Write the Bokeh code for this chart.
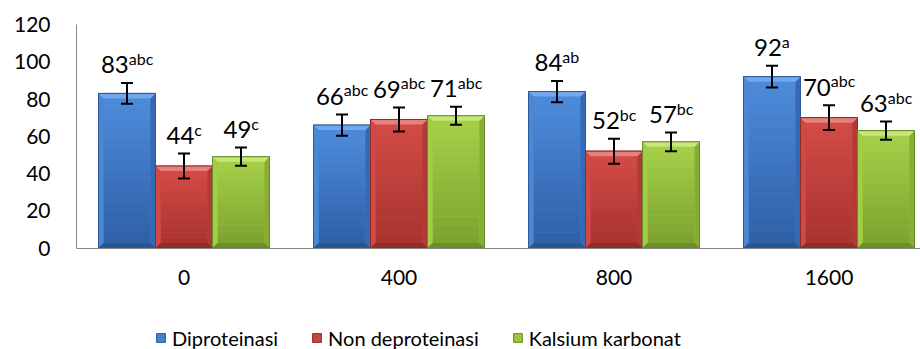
import numpy as np
from bokeh.plotting import figure
from bokeh.models import (ColumnDataSource, FixedTicker, Legend, LegendItem,
                          Whisker, TeeHead, Range1d)
from bokeh.core.properties import value
from bokeh.embed import file_html
from bokeh.resources import INLINE

# ---------------- data ----------------
categories = ["0", "400", "800", "1600"]
series_names = ["Diproteinasi", "Non deproteinasi", "Kalsium karbonat"]
diproteinasi = [83, 66, 84, 92]
non_deproteinasi = [44, 69, 52, 70]
kalsium_karbonat = [49, 71, 57, 63]
err_diproteinasi = [5.6, 5.7, 5.7, 5.8]
err_non_deproteinasi = [6.7, 6.5, 6.7, 6.7]
err_kalsium_karbonat = [4.9, 4.8, 5.0, 4.9]
letters_diproteinasi = ["abc", "abc", "ab", "a"]
letters_non_deproteinasi = ["c", "abc", "bc", "abc"]
letters_kalsium_karbonat = ["c", "abc", "bc", "abc"]
y_ticks = [0, 20, 40, 60, 80, 100, 120]

series_values = [diproteinasi, non_deproteinasi, kalsium_karbonat]
series_errors = [err_diproteinasi, err_non_deproteinasi, err_kalsium_karbonat]
series_letters = [letters_diproteinasi, letters_non_deproteinasi, letters_kalsium_karbonat]

# ---------------- styles ----------------
palettes = [
    dict(mid="#4382d2", top="#4d8cdb", bot="#2f60a6", light="#74a8ec", lside="#4a88d6", rside="#3669b3", bevel_bot="#2a5594", line="#2c5a98"),
    dict(mid="#c94541", top="#d34b46", bot="#a8332f", light="#e8817c", lside="#cf4a45", rside="#b03a36", bevel_bot="#922c29", line="#8e2b28"),
    dict(mid="#9bc740", top="#a5d048", bot="#7da22f", light="#c6e87a", lside="#a2cd46", rside="#86ad35", bevel_bot="#6d8e28", line="#6a8a27"),
]

FONT = "Lato"
W, H = 920, 349
LEFT, TOP = 76, 24
FRAME_W = W - LEFT
FRAME_H = H - TOP
CAT_PX = 215.0
X_END = FRAME_W / CAT_PX
PX_X = CAT_PX            # px per x unit
PX_Y = 223.5 / 120.0     # px per y unit
Y_MIN = -(FRAME_H / PX_Y - 120.0)   # frame extends below 0 to hold the legend
BW = 57.0 / CAT_PX       # bar width in x units
DX = 5.0 / PX_X
DY = 5.0 / PX_Y

p = figure(width=W, height=H, x_range=Range1d(0, X_END), y_range=Range1d(Y_MIN, 120),
           output_backend="svg", toolbar_location=None,
           min_border_left=LEFT, min_border_right=0, min_border_top=TOP, min_border_bottom=0)
p.xgrid.visible = False
p.ygrid.visible = False
p.outline_line_color = None
p.background_fill_color = "white"
p.border_fill_color = "white"

legend_renderers = []
NSLICE = 14

def mix(c1, c2, t):
    a = [int(c1[i:i + 2], 16) for i in (1, 3, 5)]
    b = [int(c2[i:i + 2], 16) for i in (1, 3, 5)]
    return "#%02x%02x%02x" % tuple(int(round(a[k] + (b[k] - a[k]) * t)) for k in range(3))

for s, (vals, errs, lets, pal) in enumerate(zip(series_values, series_errors, series_letters, palettes)):
    xs = np.arange(len(categories)) + 0.5 + (s - 1) * BW
    vals = np.array(vals, dtype=float)
    errs = np.array(errs, dtype=float)
    left = xs - BW / 2
    right = xs + BW / 2

    base = p.vbar(x=xs, top=vals, width=BW, fill_color=pal["mid"], line_color=pal["line"], line_width=1)
    legend_renderers.append(base)

    # gradient face
    ql, qr, qb, qt, qc = [], [], [], [], []
    for i in range(len(xs)):
        y0, y1 = DY, vals[i] - DY
        edges = np.linspace(y0, y1, NSLICE + 1)
        for k in range(NSLICE):
            ql.append(left[i] + DX); qr.append(right[i] - DX)
            qb.append(edges[k]); qt.append(edges[k + 1] + 0.05)
            qc.append(mix(pal["bot"], pal["top"], (k + 0.5) / NSLICE))
    p.quad(left=ql, right=qr, bottom=qb, top=qt, fill_color=qc, line_color=None)

    # bevels
    top_x, top_y, l_x, l_y, r_x, r_y, b_x, b_y = [], [], [], [], [], [], [], []
    for i in range(len(xs)):
        L, R, T = left[i], right[i], vals[i]
        top_x.append([L, R, R - DX, L + DX]); top_y.append([T, T, T - DY, T - DY])
        l_x.append([L, L, L + DX, L + DX]); l_y.append([0, T, T - DY, DY])
        r_x.append([R, R, R - DX, R - DX]); r_y.append([0, T, T - DY, DY])
        b_x.append([L, L + DX, R - DX, R]); b_y.append([0, DY, DY, 0])
    p.patches(xs=l_x, ys=l_y, fill_color=pal["lside"], line_color=None)
    p.patches(xs=r_x, ys=r_y, fill_color=pal["rside"], line_color=None)
    p.patches(xs=b_x, ys=b_y, fill_color=pal["bevel_bot"], line_color=None)
    p.patches(xs=top_x, ys=top_y, fill_color=pal["light"], line_color=None)
    p.vbar(x=xs, top=vals, width=BW, fill_alpha=0, line_color=pal["line"], line_width=1)

    # error bars
    esrc = ColumnDataSource(dict(x=xs, upper=vals + errs, lower=vals - errs))
    w = Whisker(source=esrc, base="x", upper="upper", lower="lower", dimension="height",
                line_color="black", line_width=2, level="annotation",
                upper_head=TeeHead(size=12, line_width=2, line_color="black"),
                lower_head=TeeHead(size=12, line_width=2, line_color="black"))
    p.add_layout(w)

    # labels: number + superscript letters, centred together over the bar
    num_txt = [str(int(v)) for v in vals]
    w_num = np.array([len(t) * 0.58 * 24 for t in num_txt])
    cw = {"a": 0.51, "b": 0.56, "c": 0.45}
    w_sup = np.array([sum(cw[c] for c in t) * 16 for t in lets])
    joint = (w_num - w_sup) / 2.0
    lsrc = ColumnDataSource(dict(x=xs, y_num=vals + errs + 18.0 / PX_Y,
                                 y_sup=vals + errs + 24.5 / PX_Y,
                                 num=num_txt, sup=lets, xo=joint))
    p.text(x="x", y="y_num", text="num", source=lsrc, x_offset="xo",
           text_align="right", text_baseline="alphabetic",
           text_font=value(FONT), text_font_size="24px", text_color="black")
    p.text(x="x", y="y_sup", text="sup", source=lsrc, x_offset="xo",
           text_align="left", text_baseline="alphabetic",
           text_font=value(FONT), text_font_size="16px", text_color="black")

# axes
p.yaxis.ticker = FixedTicker(ticks=y_ticks)
p.yaxis.bounds = (0, 120)
p.yaxis.major_tick_out = 0
p.yaxis.major_tick_in = 0
p.yaxis.minor_tick_out = 0
p.yaxis.minor_tick_in = 0
p.yaxis.axis_line_color = "#868686"
p.yaxis.major_label_standoff = 26
p.yaxis.major_label_text_font = FONT
p.yaxis.major_label_text_font_size = "21px"
p.yaxis.major_label_text_color = "black"

p.xaxis.fixed_location = 0
p.xaxis.ticker = FixedTicker(ticks=[i + 0.5 for i in range(len(categories))])
p.xaxis.major_label_overrides = {i + 0.5: c for i, c in enumerate(categories)}
p.xaxis.major_tick_out = 0
p.xaxis.major_tick_in = 0
p.xaxis.minor_tick_out = 0
p.xaxis.minor_tick_in = 0
p.xaxis.axis_line_color = "#868686"
p.xaxis.major_label_standoff = 22
p.xaxis.major_label_text_font = FONT
p.xaxis.major_label_text_font_size = "21px"
p.xaxis.major_label_text_color = "black"

legend = Legend(items=[LegendItem(label=n, renderers=[r]) for n, r in zip(series_names, legend_renderers)],
                orientation="horizontal", location=(79, -0.5),
                label_text_font=FONT, label_text_font_size="20px", label_text_color="black",
                glyph_width=11, glyph_height=11, spacing=33, label_standoff=6,
                padding=0, margin=0, border_line_color=None, background_fill_alpha=0)
p.add_layout(legend, "center")

open("out.html", "w").write(file_html(p, INLINE))
